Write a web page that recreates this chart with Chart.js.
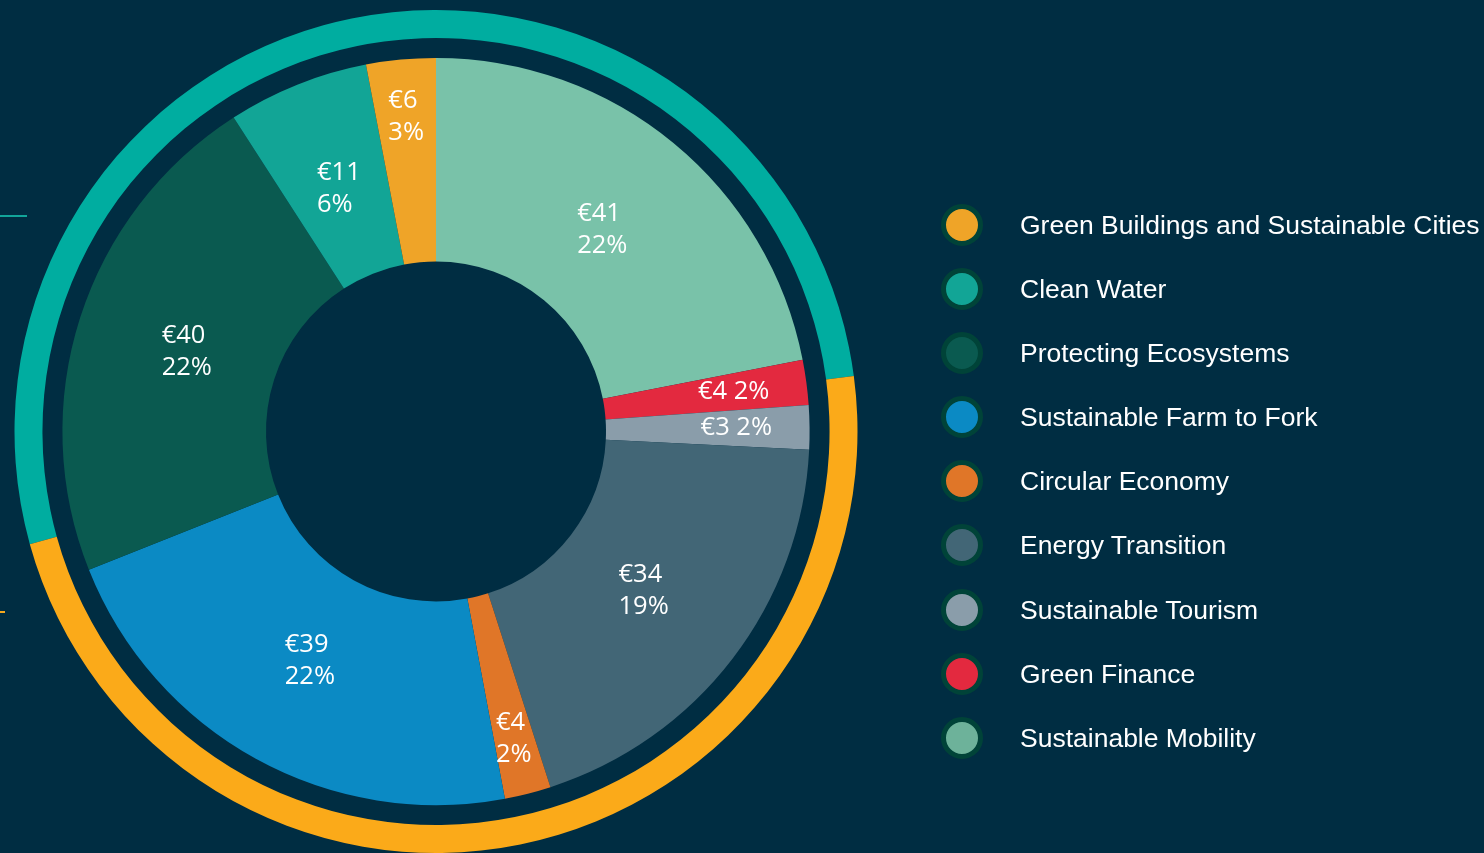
<!DOCTYPE html>
<html>
<head>
<meta charset="utf-8">
<script src="https://cdn.jsdelivr.net/npm/chart.js@4.4.1/dist/chart.umd.min.js"></script>
<style>
  html, body { margin: 0; padding: 0; background: #002d42; width: 1484px; height: 853px; overflow: hidden; }
  #wrap { position: relative; width: 1484px; height: 853px; }
  canvas { position: absolute; left: 0; top: 0; }
  .deco { position: absolute; height: 2px; }
  #legend { position: absolute; left: 941px; top: 204px; font-family: "Liberation Sans", Arial, sans-serif; font-size: 26.5px; color: #ffffff; }
  .item { position: relative; height: 64.1px; }
  .dot { position: absolute; left: 0; top: 0; width: 32px; height: 32px; border-radius: 50%; border: 5px solid #004338; }
  .txt { position: absolute; left: 79px; top: 21px; transform: translateY(-50%); white-space: nowrap; line-height: 1; }
</style>
</head>
<body>
<div id="wrap">
  <canvas id="c" width="1484" height="853"></canvas>
  <div class="deco" style="left:0;top:215px;width:27px;background:#12a59a;"></div>
  <div class="deco" style="left:0;top:611px;width:5px;background:#f5a81e;"></div>
  <div id="legend"></div>
</div>
<script>
// Slices, clockwise from 12 o'clock
const categories = ["Sustainable Mobility", "Green Finance", "Sustainable Tourism", "Energy Transition",
                    "Circular Economy", "Sustainable Farm to Fork", "Protecting Ecosystems", "Clean Water",
                    "Green Buildings and Sustainable Cities"];
// label amounts (€) and percentages as printed
const amounts = [41, 4, 3, 34, 4, 39, 40, 11, 6];
const percents = [22, 2, 2, 19, 2, 22, 22, 6, 3];
// slice shares (% of the circle) as drawn in the picture
const sliceShares = [21.9, 1.95, 1.9, 19.25, 2.0, 21.9, 21.9, 6.1, 3.0];
const sliceColors = ["#79c2a9", "#e3293f", "#8a9daa", "#426676", "#e07628", "#0b8ac4", "#0a5a50", "#12a596", "#efa428"];
const legendColors = ["#6db29a", "#e3293f", "#8a9daa", "#426676", "#e07628", "#0b8ac4", "#0a5a50", "#12a596", "#efa428"];
// Outer ring (two parts)
const ringValues = [52.2, 47.8];
const ringColors = ["#00ada0", "#fbaa19"];
// Legend order (top to bottom)
const legendOrder = [8, 7, 6, 5, 4, 3, 2, 1, 0];

const labelPlugin = {
  id: 'sliceLabels',
  afterDatasetsDraw(chart) {
    const ctx = chart.ctx;
    const meta = chart.getDatasetMeta(2);
    ctx.save();
    ctx.fillStyle = '#ffffff';
    ctx.font = '25.5px "Open Sans", sans-serif';
    ctx.textBaseline = 'middle';
    meta.data.forEach((arc, i) => {
      const s = arc.startAngle, e = arc.endAngle;
      const mid = (s + e) / 2;
      const span = e - s;
      const ring = arc.outerRadius - arc.innerRadius;
      const narrow = span < 0.26;
      const horiz = Math.abs(Math.cos(mid)) > 0.8;
      const l1 = '€' + amounts[i];
      const l2 = percents[i] + '%';
      if (narrow && horiz) {
        const r = arc.innerRadius + ring * 0.64;
        const px = arc.x + Math.cos(mid) * r, py = arc.y + Math.sin(mid) * r;
        ctx.textAlign = 'center';
        ctx.fillText(l1 + ' ' + l2, px, py);
      } else {
        const r = arc.innerRadius + ring * (narrow ? 0.72 : 0.45);
        const px = arc.x + Math.cos(mid) * r, py = arc.y + Math.sin(mid) * r;
        const w = Math.max(ctx.measureText(l1).width, ctx.measureText(l2).width);
        ctx.textAlign = 'left';
        ctx.fillText(l1, px - w / 2, py - 16);
        ctx.fillText(l2, px - w / 2, py + 16);
      }
    });
    ctx.restore();
  }
};

new Chart(document.getElementById('c'), {
  type: 'doughnut',
  data: {
    labels: categories,
    datasets: [
      { data: ringValues, backgroundColor: ringColors, borderWidth: 0, weight: 28, rotation: 254.5 },
      { data: [1], backgroundColor: ['rgba(0,0,0,0)'], borderWidth: 0, weight: 20 },
      { data: sliceShares, backgroundColor: sliceColors, borderWidth: 0, weight: 204 }
    ]
  },
  options: {
    responsive: false,
    animation: false,
    devicePixelRatio: 1,
    cutout: 170,
    layout: { padding: { left: 14, right: 626, top: 10, bottom: 0 } },
    plugins: { legend: { display: false }, tooltip: { enabled: false } },
    events: []
  },
  plugins: [labelPlugin]
});

const legend = document.getElementById('legend');
legendOrder.forEach(i => {
  const item = document.createElement('div');
  item.className = 'item';
  const dot = document.createElement('div');
  dot.className = 'dot';
  dot.style.background = legendColors[i];
  const t = document.createElement('div');
  t.className = 'txt';
  t.textContent = categories[i];
  item.appendChild(dot); item.appendChild(t);
  legend.appendChild(item);
});
</script>
</body>
</html>
